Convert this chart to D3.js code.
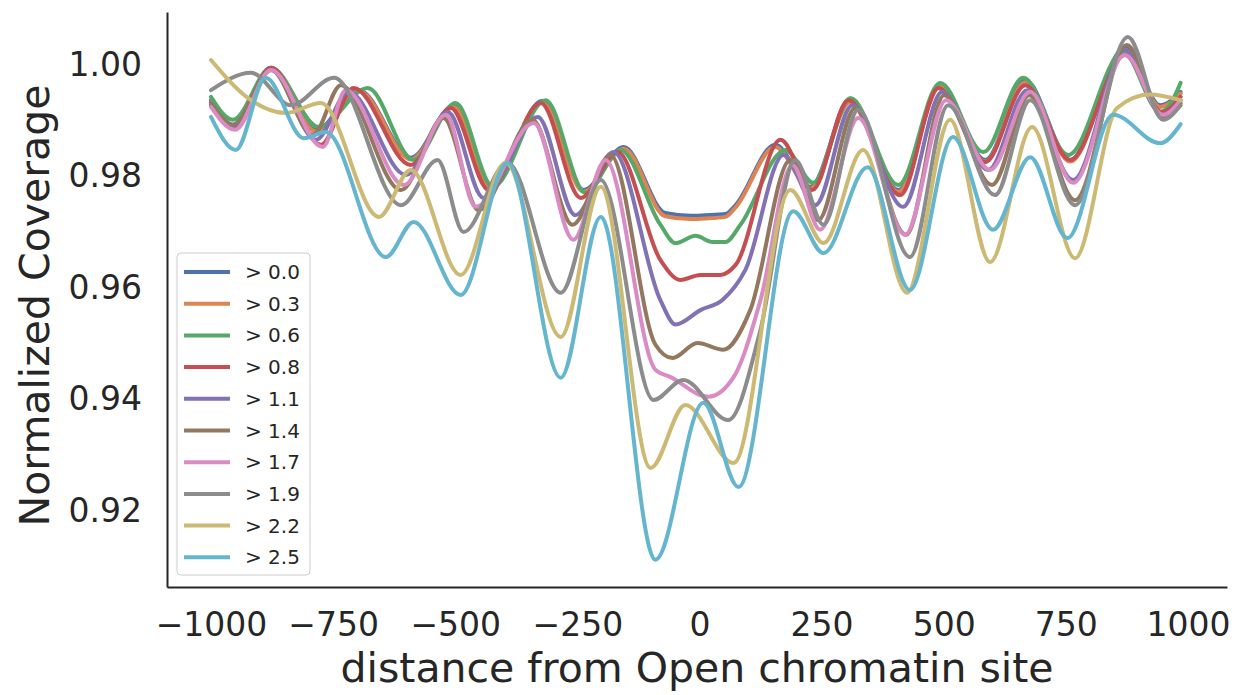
<!DOCTYPE html>
<html>
<head>
<meta charset="utf-8">
<script src="https://cdn.jsdelivr.net/npm/d3@7"></script>
<style>
  html, body { margin: 0; padding: 0; background: #ffffff; }
  svg { display: block; font-family: "DejaVu Sans", sans-serif; }
</style>
</head>
<body>
<svg id="chart" width="1244" height="695"></svg>
<script>
// Coverage profiles around open chromatin sites, one per score threshold.
// Each series: [distance (bp), normalized coverage] at turning points of the profile.
const labels = ["> 0.0", "> 0.3", "> 0.6", "> 0.8", "> 1.1", "> 1.4", "> 1.7", "> 1.9", "> 2.2", "> 2.5"];

const cov00 = [[-1000,0.9936],[-955,0.9892],[-877,0.9994],[-785,0.9883],[-697,0.9954],[-591,0.9833],[-503,0.9926],[-427,0.9782],[-322,0.9935],[-237,0.9775],[-155,0.9852],[-70,0.9734],[-18,0.9729],[12,0.9730],[53,0.9732],[74,0.9748],[155,0.9856],[227,0.9781],[309,0.9936],[407,0.9775],[493,0.9963],[585,0.9829],[667,0.9972],[759,0.9829],[871,1.0030],[943,0.9927],[985,0.9951]];
const cov03 = [[-1000,0.9933],[-955,0.9890],[-877,0.9992],[-785,0.9880],[-697,0.9952],[-591,0.9830],[-503,0.9924],[-427,0.9779],[-322,0.9932],[-237,0.9772],[-155,0.9849],[-70,0.9728],[-18,0.9723],[12,0.9724],[53,0.9727],[74,0.9744],[155,0.9852],[227,0.9778],[309,0.9933],[407,0.9772],[493,0.9960],[585,0.9826],[667,0.9968],[759,0.9826],[871,1.0026],[943,0.9924],[985,0.9948]];
const cov06 = [[-1000,0.9942],[-955,0.9901],[-877,0.9994],[-779,0.9888],[-679,0.9958],[-585,0.9829],[-499,0.9931],[-423,0.9781],[-315,0.9936],[-233,0.9770],[-162,0.9847],[-80,0.9713],[-49,0.9680],[-8,0.9693],[27,0.9682],[53,0.9682],[84,0.9713],[176,0.9847],[233,0.9788],[309,0.9940],[407,0.9784],[493,0.9967],[581,0.9843],[663,0.9976],[755,0.9838],[867,1.0022],[943,0.9915],[960,0.9924],[985,0.9967]];
const cov08 = [[-1000,0.9927],[-953,0.9886],[-877,0.9994],[-775,0.9856],[-708,0.9958],[-591,0.9820],[-509,0.9922],[-431,0.9775],[-325,0.9931],[-243,0.9761],[-168,0.9843],[-80,0.9650],[-39,0.9614],[2,0.9623],[43,0.9623],[74,0.9641],[166,0.9865],[231,0.9775],[305,0.9936],[411,0.9766],[489,0.9958],[585,0.9825],[667,0.9963],[759,0.9829],[871,1.0017],[947,0.9915],[985,0.9942]];
const cov11 = [[-1000,0.9931],[-955,0.9890],[-877,0.9990],[-785,0.9865],[-718,0.9951],[-601,0.9802],[-515,0.9915],[-442,0.9761],[-331,0.9906],[-254,0.9730],[-176,0.9843],[-80,0.9578],[-49,0.9534],[2,0.9560],[47,0.9578],[94,0.9632],[172,0.9838],[237,0.9748],[313,0.9927],[417,0.9745],[497,0.9951],[591,0.9811],[671,0.9954],[765,0.9793],[871,1.0026],[947,0.9910],[985,0.9936]];
const cov14 = [[-1000,0.9931],[-955,0.9892],[-877,0.9990],[-791,0.9874],[-734,0.9963],[-611,0.9775],[-524,0.9904],[-452,0.9739],[-342,0.9901],[-260,0.9713],[-182,0.9838],[-90,0.9498],[-55,0.9474],[-4,0.9501],[49,0.9489],[104,0.9560],[186,0.9829],[243,0.9721],[319,0.9922],[423,0.9695],[501,0.9945],[599,0.9784],[675,0.9945],[769,0.9757],[875,1.0035],[949,0.9904],[985,0.9931]];
const cov17 = [[-1000,0.9924],[-951,0.9883],[-877,0.9990],[-771,0.9852],[-724,0.9954],[-605,0.9784],[-519,0.9910],[-458,0.9745],[-339,0.9895],[-258,0.9686],[-192,0.9829],[-90,0.9453],[-59,0.9440],[18,0.9405],[70,0.9440],[125,0.9578],[190,0.9820],[247,0.9704],[325,0.9904],[421,0.9695],[505,0.9936],[595,0.9811],[677,0.9951],[765,0.9788],[871,1.0017],[949,0.9910],[985,0.9936]];
const cov19 = [[-1000,0.9954],[-918,0.9985],[-836,0.9927],[-748,0.9976],[-611,0.9748],[-536,0.9829],[-483,0.9700],[-393,0.9824],[-284,0.9591],[-202,0.9793],[-94,0.9399],[-33,0.9435],[59,0.9363],[125,0.9525],[196,0.9829],[254,0.9713],[325,0.9919],[431,0.9655],[509,0.9927],[605,0.9766],[677,0.9936],[769,0.9748],[877,1.0049],[949,0.9901],[985,0.9927]];
const cov22 = [[-1000,1.0008],[-918,0.9936],[-847,0.9913],[-775,0.9931],[-656,0.9727],[-591,0.9811],[-489,0.9623],[-397,0.9824],[-284,0.9512],[-202,0.9781],[-100,0.9277],[-29,0.9390],[70,0.9286],[186,0.9775],[254,0.9680],[335,0.9847],[425,0.9591],[513,0.9901],[595,0.9646],[681,0.9888],[769,0.9653],[855,0.9922],[922,0.9946],[985,0.9936]];
const cov25 = [[-1000,0.9906],[-949,0.9847],[-888,0.9976],[-810,0.9868],[-765,0.9879],[-642,0.9655],[-585,0.9718],[-489,0.9587],[-393,0.9824],[-284,0.9439],[-202,0.9727],[-90,0.9113],[8,0.9394],[80,0.9243],[192,0.9737],[254,0.9662],[344,0.9816],[431,0.9596],[519,0.9870],[601,0.9704],[677,0.9834],[753,0.9689],[847,0.9910],[943,0.9859],[985,0.9893]];

const series = [cov00, cov03, cov06, cov08, cov11, cov14, cov17, cov19, cov22, cov25];

// Axis ticks
const xTicks = [-1000, -750, -500, -250, 0, 250, 500, 750, 1000];
const yTicks = [0.92, 0.94, 0.96, 0.98, 1.00];

// seaborn "deep" palette
const palette = ["#4C72B0", "#DD8452", "#55A868", "#C44E52", "#8172B3",
                 "#937860", "#DA8BC3", "#8C8C8C", "#CCB974", "#64B5CD"];

const svg = d3.select("#chart");
const plot = { left: 167, right: 1227, top: 12, bottom: 587 };

const x = d3.scaleLinear().domain([-1090, 1080]).range([plot.left, plot.right]);
const y = d3.scaleLinear().domain([0.9064, 1.0094]).range([plot.bottom, plot.top]);

const ink = "#262626";
const fmtX = d => (d < 0 ? "\u2212" + Math.abs(d) : String(d));

// Profiles
const line = d3.line()
  .x(d => x(d[0]))
  .y(d => y(d[1]))
  .curve(d3.curveMonotoneX);

svg.append("g")
  .selectAll("path")
  .data(series)
  .join("path")
  .attr("d", line)
  .attr("fill", "none")
  .attr("stroke", (d, i) => palette[i])
  .attr("stroke-width", 4)
  .attr("stroke-linejoin", "round")
  .attr("stroke-linecap", "round");

// Axes (left and bottom spines only)
const xAxis = svg.append("g")
  .attr("transform", `translate(0,${plot.bottom})`)
  .call(d3.axisBottom(x).tickValues(xTicks).tickFormat(fmtX).tickSize(0).tickSizeOuter(0).tickPadding(26));
const yAxis = svg.append("g")
  .attr("transform", `translate(${plot.left},0)`)
  .call(d3.axisLeft(y).tickValues(yTicks).tickFormat(d3.format(".2f")).tickSize(0).tickSizeOuter(0).tickPadding(25));

[xAxis, yAxis].forEach(g => {
  g.select(".domain").attr("stroke", ink).attr("stroke-width", 2);
  g.selectAll(".tick text")
    .attr("fill", ink)
    .style("font-family", "'DejaVu Sans', sans-serif")
    .style("font-size", "33px");
});

// Axis titles
svg.append("text")
  .attr("x", (plot.left + plot.right) / 2)
  .attr("y", 682)
  .attr("text-anchor", "middle")
  .attr("fill", ink)
  .style("font-size", "41px")
  .text("distance from Open chromatin site");

svg.append("text")
  .attr("transform", `translate(49,${(plot.top + plot.bottom) / 2 + 6}) rotate(-90)`)
  .attr("text-anchor", "middle")
  .attr("fill", ink)
  .style("font-size", "41px")
  .text("Normalized Coverage");

// Legend
const legend = svg.append("g").attr("transform", "translate(177,253)");
legend.append("rect")
  .attr("width", 133).attr("height", 322)
  .attr("rx", 4).attr("ry", 4)
  .attr("fill", "#ffffff").attr("fill-opacity", 0.8)
  .attr("stroke", "#cccccc").attr("stroke-width", 1);

const item = legend.selectAll("g.item")
  .data(labels)
  .join("g")
  .attr("class", "item")
  .attr("transform", (d, i) => `translate(0,${19 + i * 31.7})`);
item.append("line")
  .attr("x1", 7).attr("x2", 53)
  .attr("stroke", (d, i) => palette[i])
  .attr("stroke-width", 4)
  .attr("stroke-linecap", "butt");
item.append("text")
  .attr("x", 68).attr("y", 7)
  .attr("fill", ink)
  .style("font-size", "20px")
  .text(d => d);
</script>
</body>
</html>
